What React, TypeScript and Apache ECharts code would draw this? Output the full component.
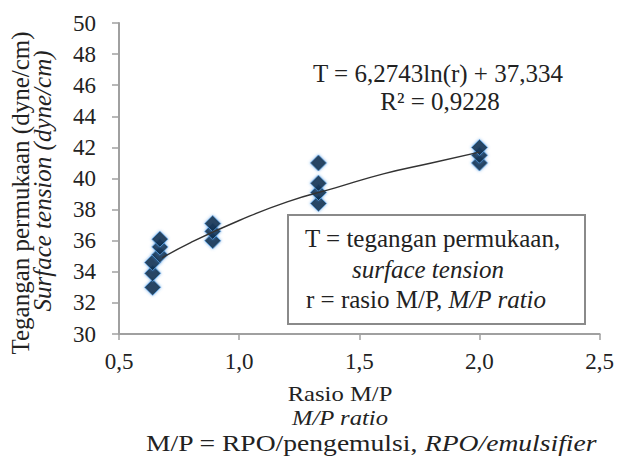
import React, { useEffect, useRef } from "react";
import * as echarts from "echarts";

const ratioX = [0.64, 0.64, 0.64, 0.67, 0.67, 0.67, 0.89, 0.89, 0.89, 1.33, 1.33, 1.33, 1.33, 2.0, 2.0, 2.0];
const tension = [33.0, 33.9, 34.6, 35.1, 35.6, 36.1, 36.0, 36.6, 37.1, 38.4, 39.1, 39.7, 41.0, 41.0, 41.5, 42.0];
const trendX = [0.68, 0.8, 1.0, 1.2, 1.4, 1.6, 1.8, 2.0];
const trendY = [34.9, 35.9, 37.3, 38.5, 39.4, 40.3, 41.0, 41.7];
const yTitle1 = "Tegangan permukaan (dyne/cm)";
const yTitle2 = "Surface tension (dyne/cm)";
const xTitle1 = "Rasio M/P";
const xTitle2 = "M/P ratio";
const xTitle3a = "M/P = RPO/pengemulsi, ";
const xTitle3b = "RPO/emulsifier";
const eq1 = "T = 6,2743ln(r) + 37,334";
const eq2 = "R\u00B2 = 0,9228";
const note1 = "T = tegangan permukaan,";
const note2 = "surface tension";
const note3a = "r = rasio M/P, ";
const note3b = "M/P ratio";

const FONT = "Liberation Serif";

export default function App() {
  const ref = useRef<HTMLDivElement>(null);
  useEffect(() => {
    document.body.style.margin = "0";
    const chart = echarts.init(ref.current!, null, { renderer: "svg" });
    const txt = (x: number, y: number, text: string, size: number, extra: any = {}) => ({
      type: "text",
      x,
      y,
      ...extra,
      style: {
        text,
        fontFamily: FONT,
        fontSize: size,
        fill: "#222",
        align: "center",
        verticalAlign: "middle",
        ...(extra.style || {}),
      },
    });
    chart.setOption({
      animation: false,
      backgroundColor: "#fff",
      grid: { left: 119, right: 17, top: 23, bottom: 135 },
      xAxis: {
        type: "value",
        min: 0.5,
        max: 2.5,
        interval: 0.5,
        splitLine: { show: false },
        axisLine: { show: true, onZero: false, lineStyle: { color: "#a0a0a0", width: 2 } },
        axisTick: { show: true, length: 6, lineStyle: { color: "#a0a0a0", width: 1.5 } },
        axisLabel: {
          fontFamily: FONT,
          fontSize: 23,
          color: "#222",
          margin: 16,
          formatter: (v: number) => v.toFixed(1).replace(".", ","),
        },
      },
      yAxis: {
        type: "value",
        min: 30,
        max: 50,
        interval: 2,
        splitLine: { show: false },
        axisLine: { show: true, onZero: false, lineStyle: { color: "#a0a0a0", width: 2 } },
        axisTick: { show: true, length: 7, lineStyle: { color: "#a0a0a0", width: 1.5 } },
        axisLabel: { fontFamily: FONT, fontSize: 23, color: "#222", margin: 23 },
      },
      series: [
        {
          type: "scatter",
          data: ratioX.map((x, i) => [x, tension[i]]),
          symbol: "diamond",
          symbolSize: 16,
          itemStyle: {
            color: "#000",
            borderColor: "#5aa2e8",
            borderWidth: 1,
            shadowBlur: 3,
            shadowColor: "rgba(60,140,220,0.8)",
          },
          z: 2,
        },
        {
          type: "line",
          data: trendX.map((x, i) => [x, trendY[i]]),
          smooth: true,
          showSymbol: false,
          lineStyle: { color: "#333", width: 1.4 },
          z: 3,
        },
      ],
      graphic: [
        txt(20, 193, yTitle1, 25, { rotation: Math.PI / 2 }),
        txt(42, 181, yTitle2, 25, { rotation: Math.PI / 2, style: { fontStyle: "italic" } }),
        txt(438, 73, eq1, 25),
        txt(440, 101, eq2, 25),
        txt(340, 393, xTitle1, 22, { scaleX: 1.12 }),
        txt(340, 417.5, xTitle2, 22, { scaleX: 1.12, style: { fontStyle: "italic" } }),
        {
          type: "text",
          x: 371,
          y: 443,
          scaleX: 1.2,
          style: {
            rich: {
              n: { fontFamily: FONT, fontSize: 23, fill: "#222" },
              i: { fontFamily: FONT, fontSize: 23, fill: "#222", fontStyle: "italic" },
            },
            text: "{n|" + xTitle3a + "}{i|" + xTitle3b + "}",
            align: "center",
            verticalAlign: "middle",
          },
        },
        {
          type: "rect",
          shape: { x: 288, y: 215, width: 297, height: 109 },
          style: { fill: "#fff", stroke: "#8a8a8a", lineWidth: 2 },
          z: 10,
        },
        {
          type: "text",
          x: 305,
          y: 238,
          z: 11,
          style: { text: note1, fontFamily: FONT, fontSize: 25, fill: "#222", align: "left", verticalAlign: "middle" },
        },
        {
          type: "text",
          x: 352,
          y: 269,
          z: 11,
          style: { text: note2, fontFamily: FONT, fontSize: 25, fill: "#222", fontStyle: "italic", align: "left", verticalAlign: "middle" },
        },
        {
          type: "text",
          x: 306,
          y: 299,
          z: 11,
          style: {
            rich: {
              n: { fontFamily: FONT, fontSize: 25, fill: "#222" },
              i: { fontFamily: FONT, fontSize: 25, fill: "#222", fontStyle: "italic" },
            },
            text: "{n|" + note3a + "}{i|" + note3b + "}",
            align: "left",
            verticalAlign: "middle",
          },
        },
      ],
    });
    return () => chart.dispose();
  }, []);
  return <div ref={ref} style={{ width: 617, height: 469 }} />;
}
